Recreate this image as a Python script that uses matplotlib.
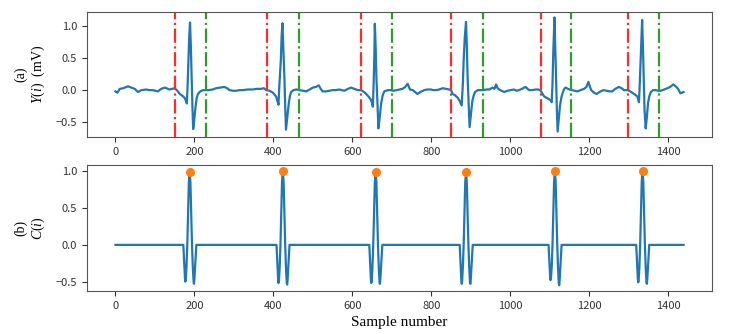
import matplotlib.pyplot as plt

plt.rcParams['mathtext.fontset'] = 'custom'
plt.rcParams['mathtext.rm'] = 'Liberation Serif'
plt.rcParams['mathtext.it'] = 'Liberation Serif:italic'

# ECG signal Y(i)
ecg_x = [0, 5, 11, 20, 32, 40, 49, 57, 66, 78, 86, 95, 107, 116, 125, 137, 144, 150, 157, 163,
         170, 175, 179, 181, 183, 185, 187, 189, 191, 193, 195, 197, 200, 203, 206, 209, 215, 222, 230, 237,
         246, 255, 266, 276, 283, 289, 298, 306, 314, 323, 335, 348, 358, 369, 376, 382, 390, 399, 407, 411,
         413, 415, 419, 421, 423, 425, 428, 430, 432, 435, 439, 442, 445, 451, 458, 466, 474, 483, 492, 500,
         508, 515, 520, 525, 533, 542, 550, 558, 567, 574, 580, 589, 597, 605, 614, 622, 630, 635, 641, 647,
         650, 652, 654, 656, 657, 659, 661, 664, 666, 669, 673, 677, 681, 690, 698, 705, 712, 719, 727, 734,
         740, 746, 753, 759, 765, 772, 782, 790, 799, 805, 812, 820, 829, 837, 845, 850, 854, 860, 867, 872,
         877, 880, 882, 885, 888, 890, 892, 895, 897, 900, 904, 908, 911, 918, 926, 932, 940, 947, 955, 960,
         964, 968, 972, 978, 985, 993, 1001, 1010, 1016, 1022, 1030, 1035, 1039, 1044, 1048, 1055, 1065, 1070, 1076, 1081,
         1086, 1092, 1098, 1102, 1105, 1107, 1109, 1112, 1114, 1116, 1118, 1120, 1123, 1126, 1130, 1134, 1138, 1141, 1146, 1150,
         1157, 1163, 1170, 1178, 1187, 1193, 1198, 1202, 1205, 1212, 1219, 1226, 1232, 1237, 1245, 1252, 1258, 1266, 1275, 1282,
         1288, 1298, 1304, 1309, 1316, 1322, 1326, 1328, 1331, 1334, 1336, 1338, 1340, 1343, 1346, 1349, 1352, 1356, 1362, 1368,
         1375, 1381, 1390, 1398, 1405, 1413, 1419, 1425, 1431, 1435, 1439]
ecg_y = [-0.02, -0.04, 0.02, 0.03, 0.06, 0.04, 0.02, -0.03, 0.0, 0.01, 0.0, 0.0, -0.02, 0.02, 0.04, 0.01, 0.02, 0.03, -0.01, -0.06,
         -0.09, -0.12, -0.17, -0.21, 0.1, 0.47, 0.85, 1.06, 0.7, 0.2, -0.25, -0.61, -0.45, -0.26, -0.12, -0.06, -0.02, 0.0, 0.0, 0.0,
         0.01, 0.03, 0.04, 0.05, 0.03, 0.0, -0.01, -0.01, 0.0, 0.0, 0.01, 0.01, 0.02, 0.02, 0.03, 0.0, -0.01, -0.04, -0.1, -0.18,
         -0.23, 0.05, 0.47, 0.85, 1.05, 0.7, 0.2, -0.25, -0.62, -0.45, -0.21, -0.09, -0.03, 0.0, 0.01, 0.0, -0.01, -0.02, 0.01, 0.04,
         0.05, 0.075, 0.02, -0.02, -0.02, -0.01, 0.0, 0.0, 0.01, 0.0, -0.01, 0.02, 0.04, 0.02, 0.0, 0.0, -0.03, -0.06, -0.1, -0.15,
         -0.2, -0.26, 0.1, 0.6, 1.04, 0.7, 0.2, -0.25, -0.6, -0.45, -0.21, -0.08, -0.02, 0.0, 0.0, -0.01, 0.0, 0.01, 0.02, 0.05,
         0.1, 0.01, 0.0, -0.03, -0.06, -0.03, 0.0, 0.01, 0.01, 0.0, 0.0, 0.01, 0.03, 0.02, 0.01, 0.0, -0.06, -0.08, -0.12, -0.17,
         -0.24, 0.1, 0.47, 0.85, 1.07, 0.7, 0.2, -0.25, -0.58, -0.4, -0.17, -0.07, -0.03, 0.0, 0.0, 0.0, 0.01, 0.01, 0.04, 0.02,
         0.09, 0.03, 0.01, -0.01, -0.03, -0.01, 0.0, 0.01, -0.01, 0.0, 0.02, 0.04, 0.05, 0.02, 0.0, 0.0, 0.01, 0.01, 0.0, -0.05,
         -0.1, -0.12, -0.14, -0.16, -0.19, 0.1, 0.6, 1.14, 0.7, 0.2, -0.3, -0.65, -0.45, -0.24, -0.1, -0.02, 0.03, 0.04, 0.02, 0.01,
         0.0, -0.01, -0.02, 0.0, 0.02, 0.05, 0.13, 0.05, 0.0, -0.04, -0.06, -0.03, -0.01, 0.0, -0.01, -0.02, -0.02, 0.02, 0.05, 0.03,
         0.0, 0.0, -0.02, -0.04, -0.07, -0.1, -0.19, 0.1, 0.6, 1.1, 0.7, 0.2, -0.3, -0.6, -0.42, -0.2, -0.1, -0.03, 0.0, 0.0,
         -0.01, -0.01, 0.01, 0.03, 0.05, 0.09, 0.06, 0.02, -0.05, -0.04, -0.03]

# detected QRS onset (red) and offset (green) positions
onsets = [150, 385, 621, 851, 1077, 1297]
offsets = [229, 466, 700, 930, 1155, 1376]

# C(i) signal
c_x = [0,
       172, 176, 177, 178, 180, 182, 184, 186, 188, 190, 192, 194, 196, 198, 199, 200, 205,
       408, 412, 413, 414, 416, 418, 420, 422, 424, 426, 428, 430, 432, 434, 435, 436, 441,
       643, 647, 648, 649, 651, 653, 655, 657, 659, 661, 663, 665, 667, 669, 670, 671, 676,
       872, 876, 877, 878, 880, 882, 884, 886, 888, 890, 892, 894, 896, 898, 899, 900, 905,
       1097, 1101, 1102, 1103, 1105, 1107, 1109, 1111, 1113, 1115, 1117, 1119, 1121, 1123, 1124, 1125, 1130,
       1319, 1323, 1324, 1325, 1327, 1329, 1331, 1333, 1335, 1337, 1339, 1341, 1343, 1345, 1346, 1347, 1352,
       1439]
c_y = [0,
       0, -0.44, -0.5, -0.48, -0.3, 0.0, 0.42, 0.85, 0.99, 0.85, 0.42, 0.0, -0.3, -0.5, -0.53, -0.47, 0,
       0, -0.46, -0.52, -0.5, -0.31, 0.0, 0.43, 0.86, 1.01, 0.86, 0.43, 0.0, -0.31, -0.52, -0.54, -0.48, 0,
       0, -0.46, -0.52, -0.5, -0.3, 0.0, 0.42, 0.85, 0.99, 0.85, 0.42, 0.0, -0.3, -0.51, -0.53, -0.47, 0,
       0, -0.47, -0.53, -0.51, -0.3, 0.0, 0.42, 0.85, 0.99, 0.85, 0.42, 0.0, -0.3, -0.51, -0.53, -0.47, 0,
       0, -0.43, -0.48, -0.46, -0.3, 0.0, 0.43, 0.86, 1.01, 0.86, 0.43, 0.0, -0.31, -0.53, -0.55, -0.49, 0,
       0, -0.45, -0.51, -0.49, -0.31, 0.0, 0.43, 0.86, 1.01, 0.86, 0.43, 0.0, -0.31, -0.51, -0.53, -0.47, 0,
       0]

# R peaks
peak_x = [188, 424, 659, 888, 1113, 1335]
peak_y = [0.99, 1.01, 0.99, 0.99, 1.01, 1.01]

fig = plt.figure(figsize=(7.31, 3.34), dpi=100)
ax1 = fig.add_axes([87 / 731, 1 - 137.3 / 334, 625 / 731, 125.6 / 334])
ax2 = fig.add_axes([87 / 731, 1 - 291 / 334, 625 / 731, 126 / 334])

ax1.plot(ecg_x, ecg_y, color='tab:blue', lw=1.6)
for x in onsets:
    ax1.axvline(x, color='#ff2a2a', ls='-.', lw=1.6)
for x in offsets:
    ax1.axvline(x, color='#2a9d2a', ls='-.', lw=1.6)

ax2.plot(c_x, c_y, color='tab:blue', lw=1.6)
ax2.plot(peak_x, peak_y, 'o', color='tab:orange', ms=5.5)

for ax in (ax1, ax2):
    ax.tick_params(labelsize=8, colors='#333333', length=3.5)
    for label in ax.get_xticklabels() + ax.get_yticklabels():
        label.set_family(['Liberation Sans Narrow', 'Noto Sans CJK JP'])
    for s in ax.spines.values():
        s.set_color('#555555')

ax1.set_ylabel('(a)\n' + r'$\mathit{Y(i)}$  (mV)', family='Liberation Serif', fontsize=10)
ax2.set_ylabel('(b)\n' + r'$\mathit{C(i)}$', family='Liberation Serif', fontsize=10)
ax1.yaxis.set_label_coords(-0.064, 0.5)
ax2.yaxis.set_label_coords(-0.064, 0.5)
ax2.set_xlabel('Sample number', family='Liberation Serif', fontsize=11, labelpad=4)

fig.savefig('out.png', dpi=100)
